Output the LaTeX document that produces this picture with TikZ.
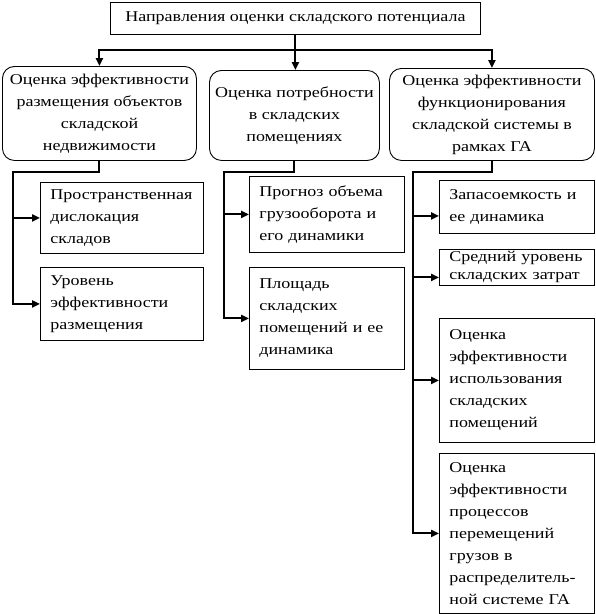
\documentclass[tikz,border=0pt]{standalone}
\usepackage{fontspec}
\setmainfont{Liberation Serif}[FakeStretch=1.2]
\usetikzlibrary{arrows.meta}

\begin{document}
\begin{tikzpicture}[x=1pt,y=-1pt,
            headbox/.style={draw,line width=0.9pt,anchor=north west,inner sep=0pt,
                font=\fontsize{15}{22}\selectfont},
            groupbox/.style={draw,line width=0.9pt,rounded corners=12pt,anchor=north west,
                align=center,inner sep=0pt,font=\fontsize{15}{22}\selectfont},
            itembox/.style={draw,line width=0.9pt,anchor=north west,align=left,
                inner xsep=10pt,inner ysep=0pt,text width=#1,
                font=\fontsize{15}{22}\selectfont},
            itembox/.default=135pt,
            link/.style={line width=2pt,line cap=rect},
            arr/.style={line width=2pt,-{Triangle[length=8pt,width=7pt]}}
        ]
            \useasboundingbox (0,0) rectangle (596,614);

            % Title
            \node[headbox,minimum width=370pt,minimum height=32pt] (top) at (110,2)
                {Направления оценки складского потенциала};

            % Directions
            \node[groupbox,minimum width=194pt,minimum height=94pt] (g1) at (2,66)
                {Оценка эффективности\\размещения объектов\\складской\\недвижимости};
            \node[groupbox,minimum width=170pt,minimum height=90pt] (g2) at (209,70)
                {Оценка потребности\\в складских\\помещениях};
            \node[groupbox,minimum width=205pt,minimum height=92pt] (g3) at (389,68)
                {Оценка эффективности\\функционирования\\складской системы в\\рамках ГА};

            % Left column
            \node[itembox=143pt,minimum height=71pt] (l1) at (40,182)
                {Пространственная\\дислокация\\складов};
            \node[itembox=143pt,minimum height=73pt] (l2) at (40,267)
                {Уровень\\эффективности\\размещения};

            % Middle column
            \node[itembox,minimum height=76pt] (m1) at (249,176)
                {Прогноз объема\\грузооборота и\\его динамики};
            \node[itembox,minimum height=102pt] (m2) at (249,267)
                {Площадь\\складских\\помещений и ее\\динамика};

            % Right column
            \node[itembox,minimum height=53pt] (r1) at (439,180)
                {Запасоемкость и\\ее динамика};
            \node[itembox,minimum height=36pt,font=\fontsize{15}{18}\selectfont] (r2) at (439,249)
                {Средний уровень\\складских затрат};
            \node[itembox,minimum height=124pt] (r3) at (439,318)
                {Оценка\\эффективности\\использования\\складских\\помещений};
            \node[itembox,minimum height=160pt] (r4) at (439,453)
                {Оценка\\эффективности\\процессов\\перемещений\\грузов в\\распределитель-\\ной системе ГА};

            % Title to directions
            \coordinate (split) at (295,50);
            \draw[arr] (top.south) -- (top.south |- g2.north);
            \draw[arr] (split) -| (g1.north);
            \draw[arr] (split) -| (g3.north);

            % Buses
            \coordinate (lbus) at (13,172);
            \coordinate (mbus) at (224,172);
            \coordinate (rbus) at (413,172);
            \draw[link] (g1.south) |- (lbus);
            \draw[link] (g2.south) |- (mbus);
            \draw[link] (g3.south) |- (rbus);
            \foreach \b in {l1,l2} {
                \draw[arr] (lbus) |- (\b.west);
            }
            \foreach \b in {m1,m2} {
                \draw[arr] (mbus) |- (\b.west);
            }
            \foreach \b/\s in {r1/9,r2/10,r3/0,r4/0} {
                \draw[arr] (rbus) |- ([yshift=-\s pt]\b.west);
            }
        \end{tikzpicture}
\end{document}
